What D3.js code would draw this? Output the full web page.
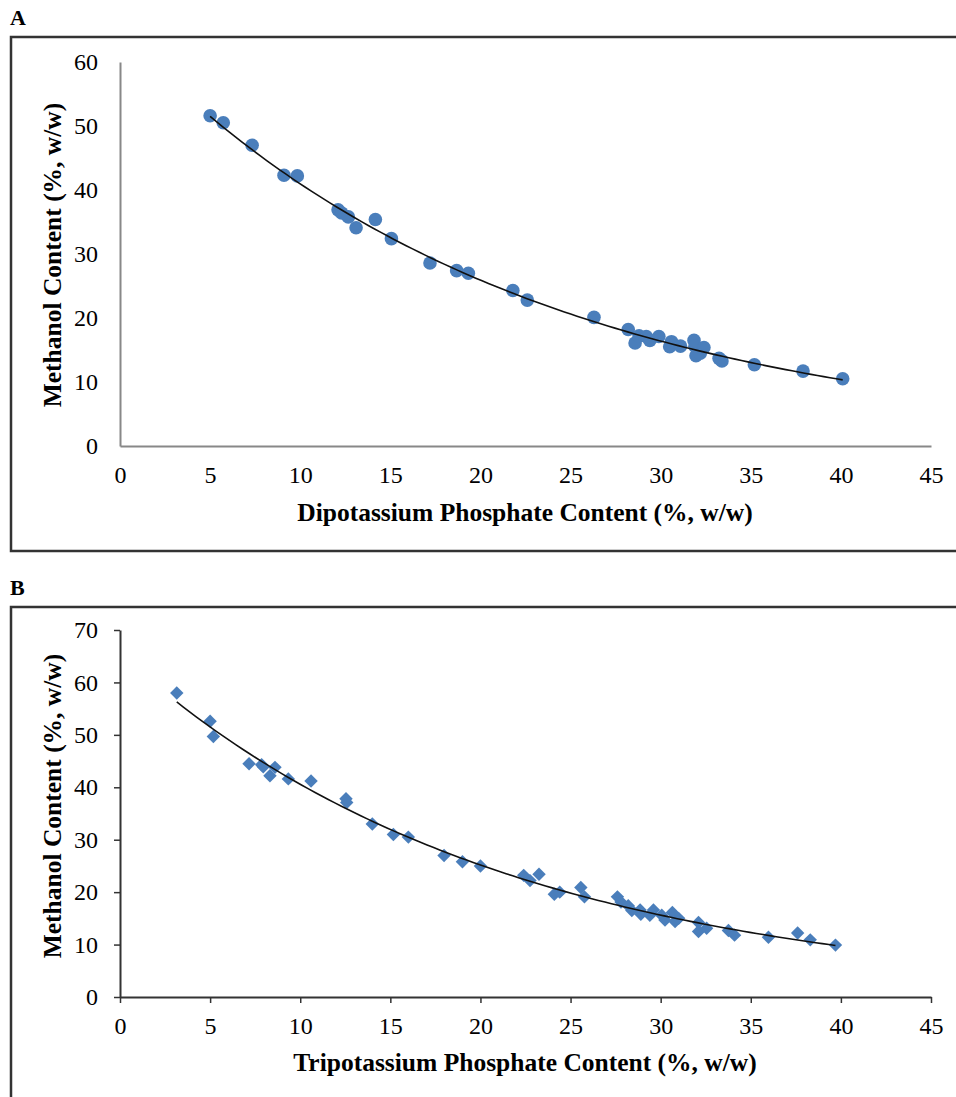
<!DOCTYPE html>
<html>
<head>
<meta charset="utf-8">
<script src="https://cdn.jsdelivr.net/npm/d3@7"></script>
<style>
  html, body { margin: 0; padding: 0; background: #fff; }
  svg { display: block; }
  text { font-family: "Liberation Serif", "Times New Roman", serif; fill: #000; }
</style>
</head>
<body>
<div id="chart"></div>
<script>
'use strict';

// Panel A: dipotassium phosphate (x) vs methanol (y), % w/w
const dipotassiumX = [5.0, 5.73, 7.33, 9.1, 9.84, 12.1, 12.3, 12.67, 13.1, 14.17, 15.06, 17.2,
    18.68, 19.33, 21.8, 22.6, 26.3, 28.2, 28.58, 28.8, 29.2, 29.4, 29.9, 30.5, 30.6, 31.1,
    31.85, 31.9, 31.96, 32.2, 32.4, 33.24, 33.4, 35.2, 37.9, 40.1];
const methanolA = [51.6, 50.5, 47.0, 42.3, 42.2, 36.9, 36.4, 35.8, 34.1, 35.4, 32.4, 28.6,
    27.4, 27.0, 24.3, 22.8, 20.1, 18.2, 16.1, 17.2, 17.1, 16.5, 17.1, 15.5, 16.3, 15.6,
    16.5, 15.6, 14.1, 14.5, 15.4, 13.7, 13.3, 12.7, 11.7, 10.5];

// Panel B: tripotassium phosphate (x) vs methanol (y), % w/w
const tripotassiumX = [3.15, 5.0, 5.18, 7.16, 7.86, 7.95, 8.32, 8.6, 9.34, 10.6, 12.54, 12.58,
    14.0, 15.17, 16.0, 17.98, 19.0, 20.0, 22.4, 22.75, 23.25, 24.1, 24.4, 25.57, 25.77,
    27.6, 27.8, 28.2, 28.4, 28.86, 28.9, 29.4, 29.6, 30.06, 30.24, 30.65, 30.8, 31.0,
    32.1, 32.1, 32.55, 33.76, 34.1, 35.98, 37.6, 38.3, 39.7];
const methanolB = [58.0, 52.6, 49.7, 44.5, 44.3, 43.9, 42.2, 43.8, 41.6, 41.2, 37.8, 37.1,
    33.0, 31.0, 30.5, 27.0, 25.8, 25.0, 23.2, 22.2, 23.4, 19.6, 20.0, 20.9, 19.1,
    19.1, 18.1, 17.4, 16.5, 16.6, 15.8, 15.6, 16.6, 15.6, 14.7, 16.1, 14.4, 15.0,
    14.2, 12.5, 13.1, 12.7, 11.8, 11.4, 12.2, 10.9, 9.9];

const xTicks = [0, 5, 10, 15, 20, 25, 30, 35, 40, 45];
const yTicksA = [0, 10, 20, 30, 40, 50, 60];
const yTicksB = [0, 10, 20, 30, 40, 50, 60, 70];

const width = 956;
const height = 1097;
const blue = "#4a7ebb";

const svg = d3.select("#chart").append("svg")
    .attr("width", width)
    .attr("height", height);

// exponential trendline: straight line fitted to ln(y)
function expFit(xs, ys) {
    const ly = ys.map(Math.log);
    const mx = d3.mean(xs), my = d3.mean(ly);
    let sxy = 0, sxx = 0;
    xs.forEach((v, i) => { sxy += (v - mx) * (ly[i] - my); sxx += (v - mx) * (v - mx); });
    const b = sxy / sxx;
    const a = my - b * mx;
    return x => Math.exp(a + b * x);
}

function panel(opts) {
    const g = svg.append("g");

    // panel letter and frame
    g.append("text")
        .attr("x", 10).attr("y", opts.top - 12)
        .style("font-size", "22px").style("font-weight", "bold")
        .text(opts.letter);
    g.append("rect")
        .attr("x", 11).attr("y", opts.top)
        .attr("width", 960).attr("height", opts.frameH)
        .attr("fill", "none").attr("stroke", "#333").attr("stroke-width", 2.5);

    const x = d3.scaleLinear().domain([0, 45]).range([120, 931]);
    const y = d3.scaleLinear().domain(opts.yDomain).range(opts.yRange);

    const xAxis = g.append("g")
        .attr("transform", `translate(0,${opts.yRange[0]})`)
        .call(d3.axisBottom(x).tickValues(xTicks).tickFormat(d3.format("d"))
            .tickSize(opts.tick).tickSizeOuter(0).tickPadding(opts.tick ? 14 : 20));
    const yAxis = g.append("g")
        .attr("transform", "translate(120,0)")
        .call(d3.axisLeft(y).tickValues(opts.yTicks).tickFormat(d3.format("d"))
            .tickSize(opts.tick).tickSizeOuter(0).tickPadding(opts.tick ? 16 : 22));

    [xAxis, yAxis].forEach(a => {
        a.select(".domain").attr("stroke", opts.axisColor).attr("stroke-width", 2);
        a.selectAll(".tick line").attr("stroke", opts.axisColor).attr("stroke-width", 1.5);
        a.selectAll("text")
            .style("font-family", "'Liberation Serif', serif")
            .style("font-size", "24px").attr("fill", "#000");
    });

    // trendline
    const fit = expFit(opts.xs, opts.ys);
    const lo = d3.min(opts.xs), hi = d3.max(opts.xs);
    const curve = d3.range(0, 101).map(i => lo + (hi - lo) * i / 100);

    // markers
    if (opts.shape === "circle") {
        g.selectAll("circle.pt")
            .data(opts.xs)
            .enter().append("circle")
            .attr("class", "pt")
            .attr("cx", d => x(d))
            .attr("cy", (d, i) => y(opts.ys[i]))
            .attr("r", 6.8)
            .attr("fill", blue);
    } else {
        const diamond = d3.symbol().type(d3.symbolDiamond2).size(115);
        g.selectAll("path.pt")
            .data(opts.xs)
            .enter().append("path")
            .attr("class", "pt")
            .attr("d", diamond)
            .attr("transform", (d, i) => `translate(${x(d)},${y(opts.ys[i])})`)
            .attr("fill", blue);
    }

    g.append("path")
        .datum(curve)
        .attr("fill", "none")
        .attr("stroke", "#111")
        .attr("stroke-width", 1.6)
        .attr("d", d3.line().x(d => x(d)).y(d => y(fit(d))));

    // axis titles
    g.append("text")
        .attr("x", 525).attr("y", opts.xTitleY)
        .attr("text-anchor", "middle")
        .style("font-size", "25.5px").style("font-weight", "bold")
        .text(opts.xTitle);
    g.append("text")
        .attr("transform", `translate(61,${opts.yTitleY}) rotate(-90)`)
        .attr("text-anchor", "middle")
        .style("font-size", "25.5px").style("font-weight", "bold")
        .text("Methanol Content (%, w/w)");
}

panel({
    letter: "A", top: 37, frameH: 514,
    xs: dipotassiumX, ys: methanolA, shape: "circle",
    yDomain: [0, 60], yRange: [446, 62], yTicks: yTicksA,
    tick: 0, axisColor: "#888",
    xTitle: "Dipotassium Phosphate Content (%, w/w)", xTitleY: 521, yTitleY: 255
});

panel({
    letter: "B", top: 607, frameH: 520,
    xs: tripotassiumX, ys: methanolB, shape: "diamond",
    yDomain: [0, 70], yRange: [997, 630], yTicks: yTicksB,
    tick: 6, axisColor: "#333",
    xTitle: "Tripotassium Phosphate Content (%, w/w)", xTitleY: 1071, yTitleY: 806
});
</script>
</body>
</html>
